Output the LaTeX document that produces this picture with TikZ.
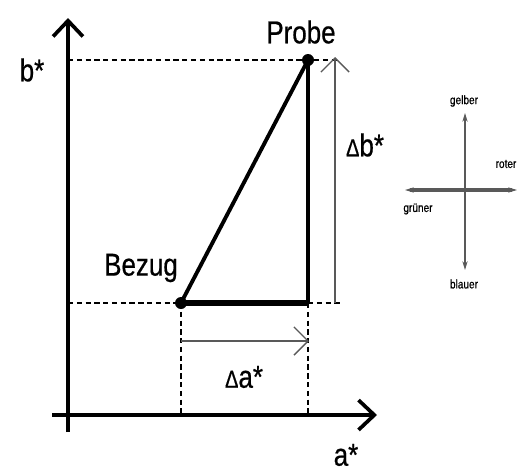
\documentclass[tikz,border=0pt]{standalone}
\usepackage{fontspec}
\setmainfont{Liberation Sans}[FakeStretch=0.82,FakeBold=0.6]
\usetikzlibrary{arrows.meta}
\begin{document}
\begin{tikzpicture}[x=0.02cm,y=-0.02cm,
  axis/.style={line width=2.1pt,-{Straight Barb[length=9pt,width=17pt,line width=2.1pt]}},
  guide/.style={densely dashed,line width=0.6pt},
  delta/.style={gray!70!black,line width=1pt,-{Straight Barb[length=8pt,width=16pt,line width=0.8pt]}},
  big/.style={font=\fontsize{18}{20}\selectfont,inner sep=0pt},
  small/.style={font=\fontsize{7}{8}\selectfont,inner sep=0pt},
  comp/.style={gray!70!black,-{Stealth[length=5pt,width=3pt]}}]
\useasboundingbox (0,0) rectangle (517,470);
% coordinates
\coordinate (O) at (68,415);
\coordinate (ytop) at (68,18);
\coordinate (ybot) at (68,432);
\coordinate (xleft) at (52,415);
\coordinate (xright) at (377,415);
\coordinate (P) at (308,60);
\coordinate (B) at (181,303);
\coordinate (C) at (308,303);
\coordinate (Pa) at (68,60);
\coordinate (Ba) at (68,303);
\coordinate (Bx) at (181,415);
\coordinate (Cx) at (308,415);
\coordinate (Db0) at (335,303);
\coordinate (Db1) at (335,57);
\coordinate (Db0r) at (340,303);
\coordinate (Db1r) at (340,60);
\coordinate (Da0) at (181,341);
\coordinate (Da1) at (309,341);
% dashed guides
\draw[guide] (Pa) -- (Db1r);
\draw[guide] (Ba) -- (B);
\draw[guide] (C) -- (Db0r);
\draw[guide] (B) -- (Bx);
\draw[guide] (C) -- (Cx);
% delta arrows
\draw[delta] (Db0) -- (Db1);
\draw[delta] (Da0) -- (Da1);
% axes
\draw[axis] (ybot) -- (ytop);
\draw[axis] (xleft) -- (xright);
% triangle
\draw[line width=2.2pt] (B) -- (P);
\draw[line width=2.2pt] (P) -- (C);
\draw[line width=3.2pt] (B) -- (C);
\fill (B) circle (6);
\fill (P) circle (6);
% labels
\node[big] (lb) at (32,70) {b*};
\node[big] (la) at (346,455) {a*};
\node[big] (lP) at (301,32) {Probe};
\node[big] (lB) at (141,268) {Bezug};
\node[big] (ldb) at (365,145) {{\fontsize{14}{16}\selectfont Δ}b*};
\node[big] (lda) at (244,377) {{\fontsize{14}{16}\selectfont Δ}a*};
% colour compass
\coordinate (cN) at (465,113);
\coordinate (cS) at (465,270);
\coordinate (cW) at (405,190);
\coordinate (cE) at (517,190);
\coordinate (cM) at (465,190);
\draw[comp,line width=0.7pt] (cM) -- (cN);
\draw[comp,line width=0.7pt] (cM) -- (cS);
\draw[comp,line width=1.8pt] (cM) -- (cW);
\draw[comp,line width=1.8pt] (cM) -- (cE);
\node[small] (gel) at (464,101) {gelber};
\node[small] (rot) at (506,164) {roter};
\node[small] (gru) at (418,209) {grüner};
\node[small] (bla) at (464,284) {blauer};
\end{tikzpicture}
\end{document}
